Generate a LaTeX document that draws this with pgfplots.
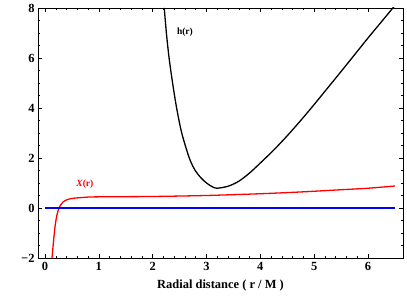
\documentclass[border=0pt]{standalone}
\usepackage{fontspec}
\setmainfont{Liberation Serif}
\usepackage{pgfplots}
\pgfplotsset{compat=1.18}
\begin{document}
\begin{tikzpicture}
\begin{axis}[
  scale only axis,
  width=365bp, height=250bp,
  xmin=-0.13, xmax=6.65,
  ymin=-2, ymax=8,
  xtick={0,1,2,3,4,5,6},
  xticklabels={\textbf{0},\textbf{1},\textbf{2},\textbf{3},\textbf{4},\textbf{5},\textbf{6}},
  ytick={-2,0,2,4,6,8},
  yticklabels={\textbf{−2},\textbf{0},\textbf{2},\textbf{4},\textbf{6},\textbf{8}},
  minor x tick num=4,
  minor y tick num=3,
  tick align=inside,
  major tick length=4bp,
  minor tick length=2bp,
  axis line style={line width=0.6pt},
  tick style={line width=0.5pt, black},
  ticklabel style={font=\fontsize{12.5}{13}\selectfont\bfseries},
  xticklabel style={yshift=-1bp},
  yticklabel style={xshift=0bp},
  xlabel={Radial distance ( r / M )},
  xlabel style={font=\fontsize{12.5}{13}\selectfont\bfseries, yshift=-2bp},
  clip=true,
]
\addplot[black, line width=1.3pt, smooth, tension=0.5] coordinates {
(2.215,8.0) (2.255,7.0) (2.305,6.0) (2.37,5.0) (2.445,4.0) (2.54,3.0)
(2.68,2.0) (2.79,1.5) (2.90,1.2) (3.00,1.00) (3.10,0.86) (3.19,0.79) (3.40,0.87)
(3.60,1.07) (3.80,1.40) (4.00,1.80) (4.25,2.32) (4.50,2.89) (4.75,3.50)
(5.00,4.14) (5.25,4.80) (5.50,5.46) (5.75,6.13) (6.00,6.80) (6.25,7.45) (6.50,8.10)
};
\addplot[red, line width=1.3pt, smooth, tension=0.5] coordinates {
(0.13,-2.0) (0.16,-1.3) (0.186,-0.75) (0.22,-0.3) (0.26,0.0) (0.30,0.15)
(0.34,0.25) (0.42,0.34) (0.53,0.39) (0.7,0.42) (0.84,0.44) (1.2,0.45)
(2.0,0.46) (3.0,0.50) (4.0,0.57) (4.74,0.64) (5.5,0.73) (6.0,0.79) (6.5,0.88)
};
\addplot[blue, line width=1.3pt] coordinates {(0,0) (6.5,0)};
\node[font=\fontsize{9.5}{10}\selectfont\bfseries, text=black] at (axis cs:2.6,7.05) {h(r)};
\node[font=\fontsize{9.5}{10}\selectfont\bfseries, text=red] at (axis cs:0.74,0.95) {\textit{X}(r)};
\end{axis}
\path (current axis.south west) ++(-38bp,-42bp) coordinate (bbA);
\path (current axis.north east) ++(4bp,8bp) coordinate (bbB);
\path (bbA) rectangle (bbB);
\end{tikzpicture}
\end{document}
